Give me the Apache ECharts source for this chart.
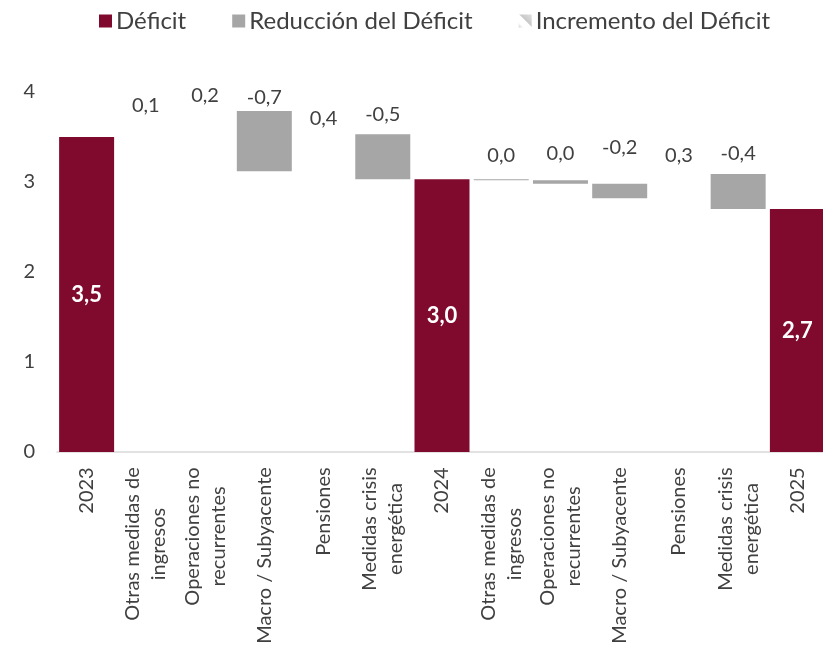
<!DOCTYPE html>
<html>
<head>
<meta charset="utf-8">
<script src="https://cdn.jsdelivr.net/npm/echarts@6/dist/echarts.min.js"></script>
<style>
  html, body { margin: 0; padding: 0; background: #fff; }
  #chart { width: 823px; height: 649px; }
</style>
</head>
<body>
<div id="chart"></div>
<script>
// categorías del gráfico
var categories = [
  '2023', 'Otras medidas de\ningresos', 'Operaciones no\nrecurrentes', 'Macro / Subyacente',
  'Pensiones', 'Medidas crisis\nenergética', '2024',
  'Otras medidas de\ningresos', 'Operaciones no\nrecurrentes', 'Macro / Subyacente',
  'Pensiones', 'Medidas crisis\nenergética', '2025'
];
// déficit total (barras rojas)
var deficit = [3.50, null, null, null, null, null, 3.03, null, null, null, null, null, 2.70];
// variaciones (positivo = incremento, negativo = reducción)
var changes = [null, 0.09, 0.20, -0.67, 0.41, -0.50, null, -0.01, -0.04, -0.16, 0.27, -0.39, null];
var yTicks = [0, 1, 2, 3, 4];
// separación extra de las etiquetas (px)
var labelGap = [0, 10, 2, 0, 3, 7, 0, 11, 14, 23, 5, 7, 0];

var FONT = 'Lato';
var TXT = '#404040';
var RED = '#7F0A2D';
var GRAY = '#A6A6A6';

function fmt(v) {
  var s = v.toFixed(1);
  if (parseFloat(s) === 0) s = '0.0';
  return s.replace('.', ',');
}

// construir las series apiladas del waterfall
var base = [], dec = [], inc = [], def = [];
var running = 0;
for (var i = 0; i < categories.length; i++) {
  if (deficit[i] != null) {
    running = deficit[i];
    base.push('-');
    dec.push('-');
    inc.push('-');
    def.push(deficit[i]);
  } else {
    var c = changes[i];
    var next = running + c;
    base.push(Math.min(running, next));
    def.push('-');
    var item = {
      value: Math.abs(c),
      label: { show: true, position: 'top', distance: 3 + labelGap[i], formatter: fmt(c) }
    };
    if (c < 0) { dec.push(item); inc.push('-'); }
    else { inc.push(item); dec.push('-'); }
    running = next;
  }
}

// medir el ancho de cada etiqueta para centrar las líneas
var ctx = document.createElement('canvas').getContext('2d');
var catFont = 20;
ctx.font = catFont + 'px ' + FONT;
var rich = {};
for (var i = 0; i < categories.length; i++) {
  var w = 0;
  categories[i].split('\n').forEach(function (l) { w = Math.max(w, ctx.measureText(l).width); });
  rich['c' + i] = { width: Math.ceil(w) + 2, align: 'center', fontSize: catFont, fontFamily: FONT, color: TXT, lineHeight: 26 };
}

var chart = echarts.init(document.getElementById('chart'));
var option = {
  animation: false,
  legend: {
    left: 94,
    top: 4,
    itemWidth: 13,
    itemHeight: 13,
    itemGap: 46,
    icon: 'rect',
    textStyle: { fontFamily: FONT, fontSize: 24, color: TXT, padding: [0, 0, 0, -1] },
    data: [
      { name: 'Déficit' },
      { name: 'Reducción del Déficit' },
      {
        name: 'Incremento del Déficit',
        itemStyle: {
          color: new echarts.graphic.LinearGradient(0, 1, 1, 0, [
            { offset: 0, color: '#d0d0d0' },
            { offset: 0.2, color: '#ffffff' },
            { offset: 0.5, color: '#ffffff' },
            { offset: 0.55, color: '#c8c8c8' },
            { offset: 1, color: '#e0e0e0' }
          ])
        }
      }
    ]
  },
  grid: { left: 57, top: 92, width: 770, bottom: 197, outerBoundsMode: 'none', containLabel: false },
  xAxis: {
    type: 'category',
    data: categories,
    axisLine: { lineStyle: { color: '#d9d9d9', width: 1.5 } },
    axisTick: { show: false },
    axisLabel: {
      rotate: 90,
      interval: 0,
      margin: 14,
      rich: rich,
      formatter: function (v, idx) {
        return v.split('\n').map(function (l) { return '{c' + idx + '|' + l + '}'; }).join('\n');
      }
    }
  },
  yAxis: {
    type: 'value',
    min: yTicks[0],
    max: yTicks[yTicks.length - 1],
    interval: 1,
    axisLine: { show: false },
    axisTick: { show: false },
    splitLine: { show: false },
    axisLabel: { fontFamily: FONT, fontSize: 20, color: TXT, margin: 22 }
  },
  series: [{
    name: 'base',
    type: 'bar',
    stack: 'w',
    barWidth: 55,
    silent: true,
    itemStyle: { color: 'transparent' },
    data: base
  }, {
    name: 'Déficit',
    type: 'bar',
    stack: 'w',
    barWidth: 55,
    itemStyle: { color: RED },
    label: {
      show: true,
      position: 'inside',
      color: '#fff',
      fontWeight: 'bold',
      fontFamily: FONT,
      fontSize: 22,
      formatter: function (p) { return fmt(p.value); }
    },
    data: def
  }, {
    name: 'Reducción del Déficit',
    type: 'bar',
    stack: 'w',
    barWidth: 55,
    itemStyle: { color: GRAY },
    label: { color: TXT, fontFamily: FONT, fontSize: 20 },
    data: dec
  }, {
    name: 'Incremento del Déficit',
    type: 'bar',
    stack: 'w',
    barWidth: 55,
    itemStyle: { color: '#ffffff' },
    label: { color: TXT, fontFamily: FONT, fontSize: 20 },
    data: inc
  }]
};
chart.setOption(option);
</script>
</body>
</html>
